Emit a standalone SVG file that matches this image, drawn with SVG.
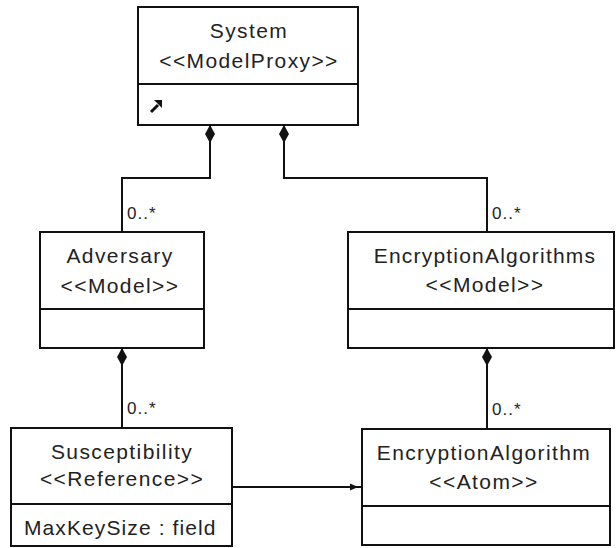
<svg xmlns="http://www.w3.org/2000/svg" width="616" height="548" viewBox="0 0 616 548">
  <style>
    .box { fill: #fff; stroke: #111; stroke-width: 2; }
    .div { stroke: #111; stroke-width: 2; }
    .t { font-family: "Liberation Sans", Arial, sans-serif; font-size: 21px; letter-spacing: 1.4px; fill: #222; text-anchor: middle; }
    .a { font-family: "Liberation Sans", Arial, sans-serif; font-size: 21px; letter-spacing: 1.2px; fill: #222; text-anchor: middle; }
    .m { font-family: "Liberation Sans", Arial, sans-serif; font-size: 17px; letter-spacing: 1px; fill: #222; }
    .c { fill: none; stroke: #111; stroke-width: 2; }
  </style>
  <defs>
    <!-- filled composition diamond at the owning end -->
    <marker id="diamond" markerUnits="userSpaceOnUse" markerWidth="20" markerHeight="12" refX="0" refY="6" orient="auto" viewBox="0 0 20 12">
      <path d="M0,6 L9,1 L18,6 L9,11 Z" fill="#111"/>
    </marker>
    <!-- small solid arrowhead, tip set slightly back from the target edge -->
    <marker id="arrow" markerUnits="userSpaceOnUse" markerWidth="14" markerHeight="10" refX="13" refY="5" orient="auto" viewBox="0 0 14 10">
      <path d="M1,1.5 L9,5 L1,8.5 Z" fill="#111"/>
    </marker>
  </defs>
  <rect width="616" height="548" fill="#fff"/>

  <g id="connectors">
    <path class="c" d="M210,125 V178 H122 V232" marker-start="url(#diamond)"/>
    <path class="c" d="M284,125 V178 H487 V232" marker-start="url(#diamond)"/>
    <path class="c" d="M122,348 V428" marker-start="url(#diamond)"/>
    <path class="c" d="M487,348 V429" marker-start="url(#diamond)"/>
    <path class="c" d="M232,487 H362" marker-end="url(#arrow)"/>
    <text class="m" x="127" y="219">0..*</text>
    <text class="m" x="492" y="219">0..*</text>
    <text class="m" x="127" y="414">0..*</text>
    <text class="m" x="492" y="415">0..*</text>
  </g>

  <g id="system">
    <rect class="box" x="138" y="7" width="220" height="118"/>
    <line class="div" x1="138" y1="84" x2="358" y2="84"/>
    <text class="t" x="249" y="38">System</text>
    <text class="t" x="249" y="68">&lt;&lt;ModelProxy&gt;&gt;</text>
    <!-- operations compartment marker -->
    <path d="M151,112 L158,105" stroke="#111" stroke-width="3" fill="none"/>
    <path d="M154,100 L162,100 L162,108 Z" fill="#111"/>
  </g>

  <g id="adversary">
    <rect class="box" x="40" y="232" width="164" height="116"/>
    <line class="div" x1="40" y1="309" x2="204" y2="309"/>
    <text class="t" x="120" y="263">Adversary</text>
    <text class="t" x="120" y="293">&lt;&lt;Model&gt;&gt;</text>
  </g>

  <g id="encryptionAlgorithms">
    <rect class="box" x="348" y="232" width="266" height="116"/>
    <line class="div" x1="348" y1="309" x2="614" y2="309"/>
    <text class="a" x="485" y="263">EncryptionAlgorithms</text>
    <text class="t" x="485" y="292">&lt;&lt;Model&gt;&gt;</text>
  </g>

  <g id="susceptibility">
    <rect class="box" x="11" y="428" width="221" height="118"/>
    <line class="div" x1="11" y1="504" x2="232" y2="504"/>
    <text class="t" x="122" y="459">Susceptibility</text>
    <text class="t" x="122" y="486">&lt;&lt;Reference&gt;&gt;</text>
    <text class="t" x="24" y="535" style="text-anchor:start;letter-spacing:1.1px">MaxKeySize : field</text>
  </g>

  <g id="encryptionAlgorithm">
    <rect class="box" x="362" y="429" width="248" height="116"/>
    <line class="div" x1="362" y1="506" x2="610" y2="506"/>
    <text class="t" x="484" y="460">EncryptionAlgorithm</text>
    <text class="t" x="484" y="489">&lt;&lt;Atom&gt;&gt;</text>
  </g>
</svg>
